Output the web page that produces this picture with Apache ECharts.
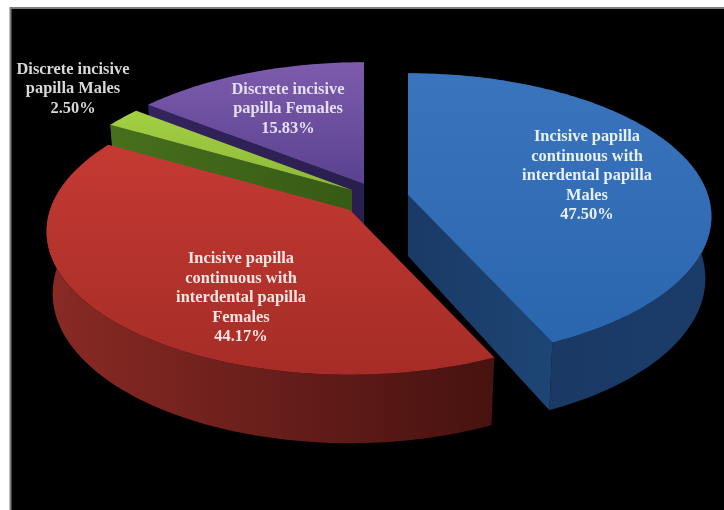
<!DOCTYPE html>
<html>
<head>
<meta charset="utf-8">
<style>html,body{margin:0;padding:0;background:#fff}#chart{width:724px;height:510px}</style>
<script src="https://cdn.jsdelivr.net/npm/echarts@6/dist/echarts.min.js"></script>
</head>
<body>
<div id="chart"></div>
<script>
// Slice names and the percentages printed on them.
const sliceNames = [
  'Incisive papilla\ncontinuous with\ninterdental papilla\nMales',
  'Incisive papilla\ncontinuous with\ninterdental papilla\nFemales',
  'Discrete incisive\npapilla Males',
  'Discrete incisive\npapilla Females'
];
const sliceValues = [47.50, 44.17, 2.50, 15.83];

// Look of each slice: top face, cut face and rim colours.
const topColors = [
  ['#3a74bc', '#2a66ae'], ['#c43a33', '#a62c27'], ['#a4d044', '#8cb838'], ['#7d5bad', '#5a4290']
];
const cutColors = [
  ['#1a3a66', '#1d4575'], ['#6e1f1b', '#5a1815'], ['#47701d', '#365a14'], ['#33245c', '#2a1e4e']
];
const rimColors = [
  ['#193660', '#1b3c6a'], ['#8a2a25', '#47120f'], ['#47701d', '#365a14'], ['#33245c', '#2a1e4e']
];
const labelColors = ['#e8f0fa', '#fbe6e2', '#d8d8d8', '#e6def2'];

// Where each slice's tip sits once pulled out of the pie, and its label centre.
const tips = [[408, 195], [350, 210], [352, 190], [364, 184]];
const labelCenters = [[587, 176], [241, 298], [73, 89], [288, 109]];

// Tilted-disc projection of the pie.
const RX = 300, RY = 140, PERSPECTIVE = 0.15, DEPTH = 61, BASE_SHRINK = 0.98;
const total = sliceValues.reduce((a, b) => a + b, 0);

function project(tip, theta, lower) {
  const u = Math.sin(theta), v = -Math.cos(theta);
  const w = 1 - PERSPECTIVE * v;
  const k = lower ? BASE_SHRINK : 1;
  return [tip[0] + k * RX * u / w, tip[1] + k * RY * v / w + (lower ? DEPTH / w : 0)];
}

function arcPoints(tip, a0, a1, lower) {
  const pts = [];
  const n = Math.max(4, Math.ceil((a1 - a0) * 60));
  for (let i = 0; i <= n; i++) pts.push(project(tip, a0 + (a1 - a0) * i / n, lower));
  return pts;
}

function fill(stops, horizontal) {
  return {
    type: 'linear', x: 0, y: 0, x2: horizontal ? 1 : 0, y2: horizontal ? 0 : 1,
    colorStops: [{ offset: 0, color: stops[0] }, { offset: 1, color: stops[1] }]
  };
}

function poly(points, style) {
  return { type: 'polygon', shape: { points }, style };
}

function startAngle(index) {
  let sum = 0;
  for (let i = 0; i < index; i++) sum += sliceValues[i];
  return sum / total * Math.PI * 2;
}

function renderSlice(params, api) {
  const i = api.value(0);
  const a0 = startAngle(i);
  const a1 = a0 + api.value(1) / total * Math.PI * 2;
  const tip = tips[i];
  const tipLow = [tip[0], tip[1] + DEPTH];
  const top = arcPoints(tip, a0, a1, false);
  const low = arcPoints(tip, a0, a1, true);
  const cut = (a) => poly([tip, project(tip, a, false), project(tip, a, true), tipLow],
    { fill: fill(cutColors[i], true) });

  const children = [poly(top.concat(low.slice().reverse()), { fill: fill(rimColors[i], true) })];
  // A radial cut only shows when it turns towards the viewer.
  if (Math.sin(a0) < -1e-6) children.push(cut(a0));
  if (Math.sin(a1) > 1e-6) children.push(cut(a1));
  children.push(poly([tip].concat(top), { fill: fill(topColors[i], false) }));
  children.push({
    type: 'text',
    z2: 10,
    style: {
      x: labelCenters[i][0], y: labelCenters[i][1],
      text: sliceNames[i] + '\n' + api.value(1).toFixed(2) + '%',
      fill: labelColors[i],
      font: 'bold 16.4px "Liberation Serif"',
      lineHeight: 19.4,
      align: 'center', verticalAlign: 'middle'
    }
  });
  return { type: 'group', children };
}

const chart = echarts.init(document.getElementById('chart'), null, { renderer: 'canvas' });
chart.setOption({
  backgroundColor: '#ffffff',
  animation: false,
  graphic: [{
    type: 'rect', z: -1, silent: true,
    shape: { x: 10.5, y: 8, width: 720, height: 510 },
    style: { fill: '#000000', stroke: '#7c7c7c', lineWidth: 2 }
  }],
  series: [{
    type: 'custom',
    coordinateSystem: 'none',
    silent: true,
    // Painted back to front: purple, green, red, blue.
    data: [3, 2, 1, 0].map((i) => [i, sliceValues[i]]),
    renderItem: renderSlice
  }]
});
</script>
</body>
</html>
